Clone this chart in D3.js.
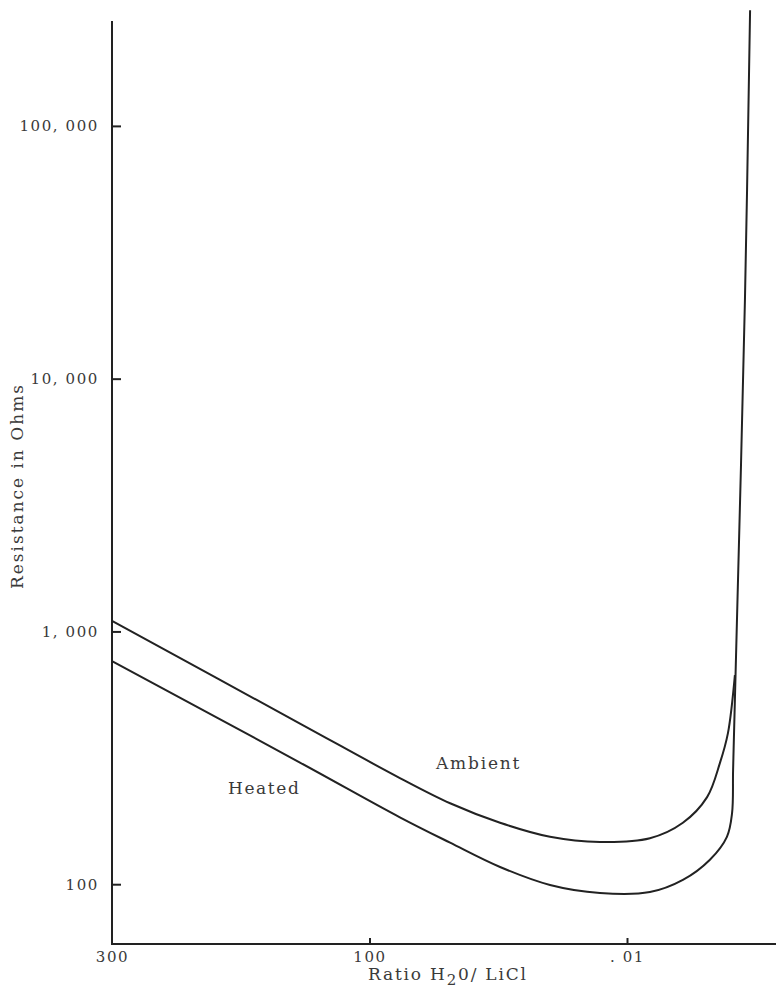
<!DOCTYPE html>
<html>
<head>
<meta charset="utf-8">
<script src="https://cdn.jsdelivr.net/npm/d3@7"></script>
<style>
  body { margin: 0; background: #fff; }
  text { font-family: "DejaVu Serif", "Liberation Serif", serif; fill: #3a3a3a; }
</style>
</head>
<body>
<div id="chart"></div>
<script>

/* Data: x is the position along the ratio axis (0 = 300, 1 = 100, 2 = .01) */
var xTickPos = [0, 1, 2];
var xTickLabels = ["300", "100", ". 01"];
var yTicks = [100, 1000, 10000, 100000];

var ambientPos   = [0, 0.730, 1.118, 1.313, 1.507, 1.701, 1.895, 2.089, 2.217, 2.311, 2.361, 2.392, 2.419];
var ambientOhms  = [1100, 432, 263, 209, 175, 154, 147, 152, 175, 221, 302, 396, 672];

var heatedPos    = [0, 0.730, 1.118, 1.313, 1.507, 1.701, 1.895, 2.089, 2.217, 2.322, 2.388, 2.408, 2.412, 2.419, 2.458, 2.478];
var heatedOhms   = [763, 303, 184, 146, 117, 99.3, 92.3, 93.1, 104, 125, 154, 191, 283, 535, 20460, 287000];

/* Overall SVG Container */
var width = 776,
    height = 997;

var svg = d3.select("#chart")
    .append("svg")
    .attr("width", width)
    .attr("height", height);

var x = d3.scaleLinear()
    .domain([0, 2])
    .range([112, 627]);

var y = d3.scaleLog()
    .domain([58, 260000])
    .range([944, 21]);

/* Axis lines */
svg.append("line")
    .attr("x1", x(0)).attr("x2", x(0))
    .attr("y1", y.range()[0]).attr("y2", y.range()[1])
    .attr("stroke", "#222")
    .attr("stroke-width", 2);

svg.append("line")
    .attr("x1", x(0) - 1).attr("x2", width)
    .attr("y1", y.range()[0]).attr("y2", y.range()[0])
    .attr("stroke", "#222")
    .attr("stroke-width", 2);

/* Y axis ticks point inward */
var yAxis = svg.append("g")
    .attr("transform", "translate(" + x(0) + ",0)")
    .call(d3.axisLeft(y)
        .tickValues(yTicks)
        .tickSize(-9)
        .tickPadding(13)
        .tickFormat(function(d) { return d3.format(",")(d).replace(",", ", "); }));

yAxis.select(".domain").remove();
yAxis.selectAll("line").attr("stroke", "#222").attr("stroke-width", 2);
yAxis.selectAll("text")
    .attr("font-size", 15)
    .attr("letter-spacing", 1.6)
    .attr("font-family", null);

/* X axis ticks point up */
var xAxis = svg.append("g")
    .attr("transform", "translate(0," + y.range()[0] + ")")
    .call(d3.axisBottom(x)
        .tickValues(xTickPos)
        .tickSize(-6)
        .tickPadding(7)
        .tickFormat(function(d, i) { return xTickLabels[i]; }));

xAxis.select(".domain").remove();
xAxis.selectAll("line")
    .attr("stroke", "#222")
    .attr("stroke-width", 2)
    .attr("opacity", function(d) { return d === 0 ? 0 : 1; });
xAxis.selectAll("text")
    .attr("font-size", 15)
    .attr("letter-spacing", 1.6)
    .attr("font-family", null);

/* Curves */
var line = d3.line()
    .x(function(d) { return x(d[0]); })
    .y(function(d) { return y(d[1]); })
    .curve(d3.curveCatmullRom.alpha(0.5));

var series = [
    { name: "Ambient", pts: d3.zip(ambientPos, ambientOhms) },
    { name: "Heated", pts: d3.zip(heatedPos, heatedOhms) }
];

svg.append("g")
    .selectAll("path")
    .data(series)
    .enter().append("path")
    .attr("d", function(d) { return line(d.pts); })
    .attr("fill", "none")
    .attr("stroke", "#222")
    .attr("stroke-width", 2);

/* Curve labels */
svg.append("text")
    .attr("x", 436).attr("y", 769)
    .attr("font-size", 17)
    .attr("letter-spacing", 1.8)
    .text("Ambient");

svg.append("text")
    .attr("x", 228).attr("y", 794)
    .attr("font-size", 17)
    .attr("letter-spacing", 1.6)
    .text("Heated");

/* Axis titles */
svg.append("text")
    .attr("transform", "translate(23,486) rotate(-90)")
    .attr("text-anchor", "middle")
    .attr("font-size", 17)
    .attr("letter-spacing", 2)
    .text("Resistance in Ohms");

var xTitle = svg.append("text")
    .attr("x", 368).attr("y", 980)
    .attr("font-size", 17)
    .attr("letter-spacing", 1.8);
xTitle.append("tspan").text("Ratio H");
xTitle.append("tspan").attr("dy", 5).attr("font-size", 15).text("2");
xTitle.append("tspan").attr("dy", -5).text("0/ LiCl");

</script>
</body>
</html>
